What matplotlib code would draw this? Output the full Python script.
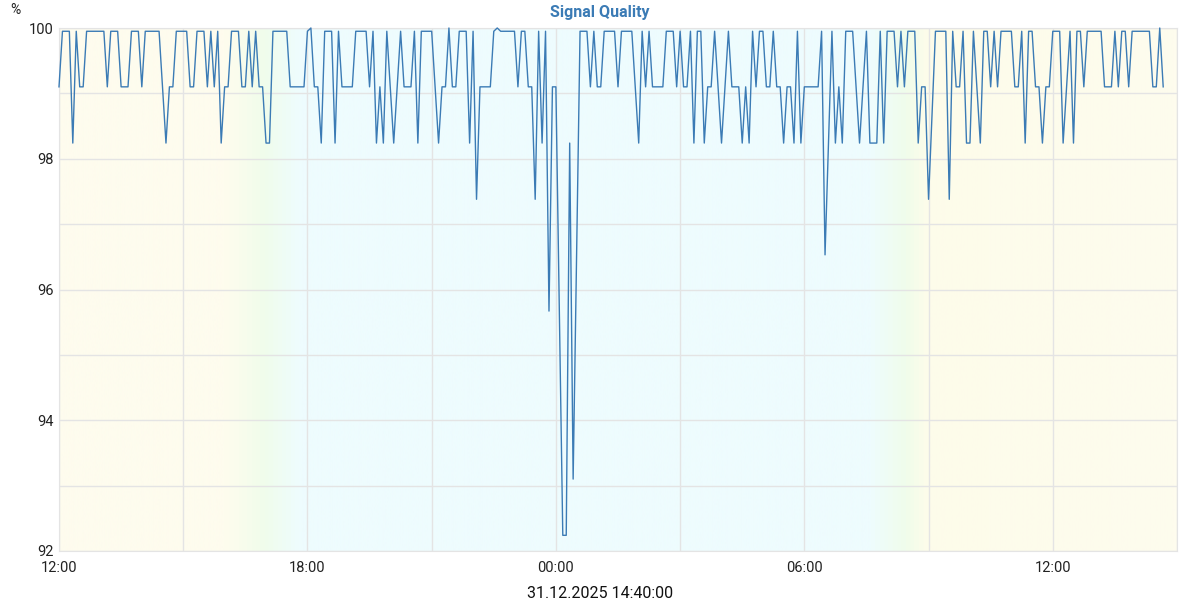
import numpy as np
import pandas as pd
import matplotlib
matplotlib.use('Agg')
import matplotlib.pyplot as plt
import matplotlib.dates as mdates
from matplotlib.colors import LinearSegmentedColormap

plt.rcParams['font.family'] = ['Roboto', 'DejaVu Sans']

# signal quality samples (%), every 5 minutes from 30.12.2025 12:00
start_time = '2025-12-30 12:00'
quality = [
    99.10, 99.95, 99.95, 99.95, 98.24, 99.95, 99.10, 99.10, 99.95, 99.95, 99.95, 99.95,   # 12h
    99.95, 99.95, 99.10, 99.95, 99.95, 99.95, 99.10, 99.10, 99.10, 99.95, 99.95, 99.95,   # 13h
    99.10, 99.95, 99.95, 99.95, 99.95, 99.95, 99.10, 98.24, 99.10, 99.10, 99.95, 99.95,   # 14h
    99.95, 99.95, 99.10, 99.10, 99.95, 99.95, 99.95, 99.10, 99.95, 99.10, 99.95, 98.24,   # 15h
    99.10, 99.10, 99.95, 99.95, 99.95, 99.10, 99.10, 99.95, 99.10, 99.95, 99.10, 99.10,   # 16h
    98.24, 98.24, 99.95, 99.95, 99.95, 99.95, 99.95, 99.10, 99.10, 99.10, 99.10, 99.10,   # 17h
    99.95, 100.0, 99.10, 99.10, 98.24, 99.95, 99.95, 99.95, 98.24, 99.95, 99.10, 99.10,   # 18h
    99.10, 99.10, 99.95, 99.95, 99.95, 99.95, 99.10, 99.95, 98.24, 99.10, 98.24, 99.95,   # 19h
    99.10, 98.24, 99.10, 99.95, 99.10, 99.10, 99.10, 99.95, 98.24, 99.95, 99.95, 99.95,   # 20h
    99.95, 99.10, 98.24, 99.10, 99.10, 100.0, 99.10, 99.10, 99.95, 99.95, 99.95, 98.24,   # 21h
    99.95, 97.38, 99.10, 99.10, 99.10, 99.10, 99.95, 100.0, 99.95, 99.95, 99.95, 99.95,   # 22h
    99.95, 99.10, 99.95, 99.95, 99.10, 99.10, 97.38, 99.95, 98.24, 99.95, 95.67, 99.10,   # 23h
    99.10, 95.67, 92.24, 92.24, 98.24, 93.10, 96.53, 99.95, 99.95, 99.95, 99.10, 99.95,   # 00h
    99.10, 99.10, 99.95, 99.95, 99.95, 99.95, 99.10, 99.95, 99.95, 99.95, 99.95, 99.10,   # 01h
    98.24, 99.95, 99.10, 99.95, 99.10, 99.10, 99.10, 99.10, 99.95, 99.95, 99.95, 99.10,   # 02h
    99.95, 99.10, 99.10, 99.95, 98.24, 99.95, 99.95, 98.24, 99.10, 99.10, 99.95, 99.10,   # 03h
    98.24, 99.10, 99.95, 99.10, 99.10, 99.10, 98.24, 99.10, 98.24, 99.95, 99.10, 99.95,   # 04h
    99.95, 99.10, 99.10, 99.95, 99.10, 99.10, 98.24, 99.10, 99.10, 98.24, 99.95, 98.24,   # 05h
    99.10, 99.10, 99.10, 99.10, 99.10, 99.95, 96.53, 98.24, 99.95, 98.24, 99.10, 98.24,   # 06h
    99.95, 99.95, 99.95, 99.10, 98.24, 99.10, 99.95, 98.24, 98.24, 98.24, 99.95, 98.24,   # 07h
    99.95, 99.95, 99.95, 99.10, 99.95, 99.10, 99.95, 99.95, 99.95, 98.24, 99.10, 99.10,   # 08h
    97.38, 98.65, 99.95, 99.95, 99.95, 99.95, 97.38, 99.95, 99.10, 99.10, 99.95, 98.24,   # 09h
    98.24, 99.95, 99.10, 98.24, 99.95, 99.95, 99.10, 99.95, 99.10, 99.95, 99.95, 99.95,   # 10h
    99.95, 99.10, 99.10, 99.95, 98.24, 99.95, 99.95, 99.10, 99.10, 98.24, 99.10, 99.10,   # 11h
    99.95, 99.95, 99.95, 98.24, 99.10, 99.95, 98.24, 99.95, 99.95, 99.10, 99.95, 99.95,   # 12h
    99.95, 99.95, 99.95, 99.10, 99.10, 99.10, 99.95, 99.10, 99.95, 99.95, 99.10, 99.95,   # 13h
    99.95, 99.95, 99.95, 99.95, 99.95, 99.10, 99.10, 100.0, 99.10,                        # 14h
]
times = pd.date_range(start_time, periods=len(quality), freq='5min')

x_start = pd.Timestamp('2025-12-30 12:00')
x_end = pd.Timestamp('2025-12-31 15:00')

fig = plt.figure(figsize=(12, 6), dpi=100)
ax = fig.add_axes([59 / 1200, 49 / 600, 1118 / 1200, 523 / 600])

# day / night background (yellow day, cyan night, greenish twilight)
bg_hours = [0.0, 4.0, 4.9, 5.8, 19.6, 20.5, 21.0, 27.0]
bg_colors = ['#fefcee', '#fefcee', '#f0fdeb', '#eefcfe', '#eefcfe', '#f0fdeb', '#fdfcea', '#fefcee']
cmap = LinearSegmentedColormap.from_list(
    'daynight', list(zip(np.array(bg_hours) / 27.0, bg_colors)))
grad = np.linspace(0, 1, 1200).reshape(1, -1)
ax.imshow(grad, cmap=cmap, aspect='auto', zorder=0,
          extent=[mdates.date2num(x_start), mdates.date2num(x_end), 92, 100])

ax.plot(times, quality, color='#3b7bb5', lw=1.0, zorder=3, clip_on=False)

ax.set_xlim(x_start, x_end)
ax.set_ylim(92, 100)
ax.xaxis.set_major_locator(mdates.HourLocator(byhour=[0, 6, 12, 18]))
ax.xaxis.set_minor_locator(mdates.HourLocator(byhour=[3, 9, 15, 21]))
ax.xaxis.set_major_formatter(mdates.DateFormatter('%H:%M'))
ax.set_yticks([92, 94, 96, 98, 100])
ax.set_yticks([93, 95, 97, 99], minor=True)
ax.grid(True, which='both', color='#e4e4e4', lw=1.0, zorder=1)
ax.set_axisbelow(True)
ax.tick_params(which='both', length=0)
ax.tick_params(axis='x', pad=7, labelsize=10.5, colors='#222222')
ax.tick_params(axis='y', pad=4, labelsize=10.5, colors='#222222')
for s in ax.spines.values():
    s.set_color('#e4e4e4')

fig.text(600 / 1200, 1 - 12 / 600, 'Signal Quality', ha='center', va='center',
         fontsize=11.5, fontweight='bold', color='#3b7bb5')
fig.text(15 / 1200, 1 - 10 / 600, '%', ha='center', va='center', fontsize=10, color='#222222')
fig.text(0.5, 1 - 593 / 600, '31.12.2025 14:40:00', ha='center', va='center',
         fontsize=11.5, color='#111111')

fig.savefig('out.png', dpi=100)
